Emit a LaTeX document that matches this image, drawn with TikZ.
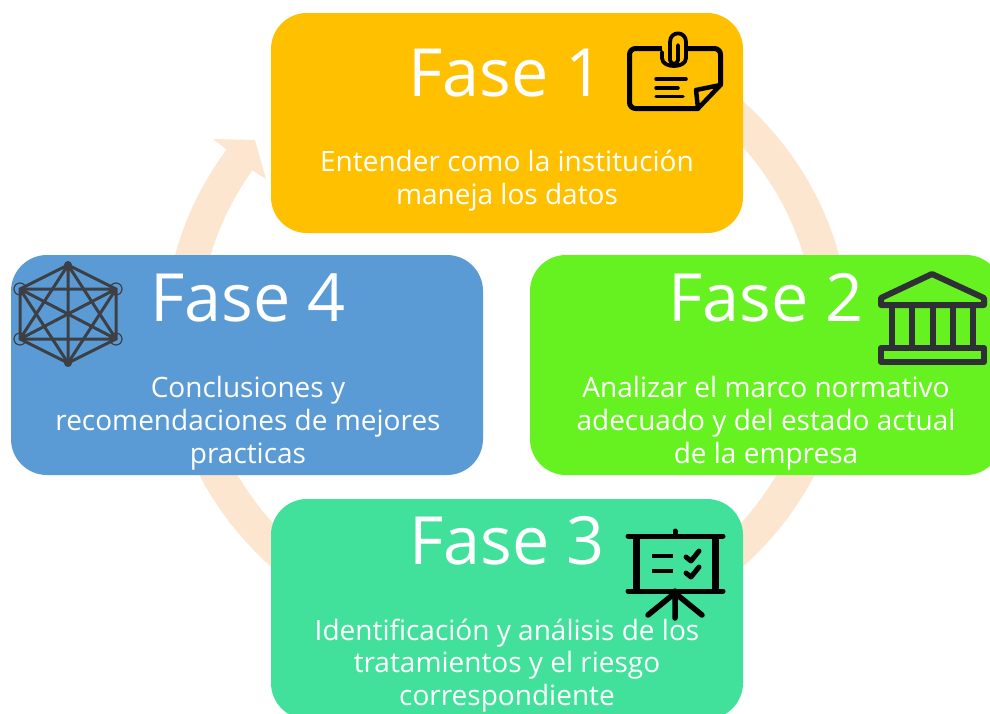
\documentclass[tikz,border=0pt]{standalone}
\usepackage{fontspec}
\setmainfont{Open Sans}
\begin{document}
\begin{tikzpicture}[x=1pt,y=-1pt,
  phasebox/.style={rounded corners=36pt,line width=0pt},
  title/.style={anchor=base,text=white,font=\fontsize{66.5}{66.5}\selectfont,inner sep=0pt},
  body/.style={anchor=base,text=white,font=\fontsize{28}{28}\selectfont,inner sep=0pt},
  ink/.style={line cap=round,line join=round},
]
\useasboundingbox (0,0) rectangle (990,713);
\clip (0,0) rectangle (990,713);
\fill[white] (0,0) rectangle (990,713);
\definecolor{ringc}{HTML}{FDE6CF}
\definecolor{orangec}{HTML}{FFC000}
\definecolor{greenc}{HTML}{66F220}
\definecolor{tealc}{HTML}{42E19B}
\definecolor{bluec}{HTML}{5B9BD5}
\definecolor{darkc}{HTML}{2F3036}
\definecolor{netc}{HTML}{3C4045}
% ring arrow
\fill[ringc] plot[domain=280:575.1,samples=150] ({507+342.5*cos(\x)},{334+321*sin(\x)})
  -- (213,139) -- (255,140) -- (266,179) -- (252,170)
  -- plot[domain=574:280,samples=150] ({507+308*cos(\x)},{334+291*sin(\x)}) -- cycle;
% boxes
\fill[orangec,phasebox] (271,13) rectangle (743,233);
\fill[greenc,phasebox] (530,255) rectangle (1002,475);
\fill[tealc,phasebox] (271,499) rectangle (743,719);
\fill[bluec,phasebox] (11,255) rectangle (483,475);
% titles
\node[title] (t1) at (506,96) {Fase 1};
\node[title] (t2) at (766,321) {Fase 2};
\node[title] (t3) at (507,564) {Fase 3};
\node[title] (t4) at (248,321) {Fase 4};
% body texts
\node[body] (b1a) at (507,171) {Entender como la institución};
\node[body] (b1b) at (507,204) {maneja los datos};
\node[body] (b2a) at (766,397) {Analizar el marco normativo};
\node[body] (b2b) at (766,430) {adecuado y del estado actual};
\node[body] (b2c) at (766,463) {de la empresa};
\node[body] (b3a) at (507,640) {Identificación y análisis de los};
\node[body] (b3b) at (507,672) {tratamientos y el riesgo};
\node[body] (b3c) at (507,705) {correspondiente};
\node[body] (b4a) at (248,397) {Conclusiones y};
\node[body] (b4b) at (248,430) {recomendaciones de mejores};
\node[body] (b4c) at (248,463) {practicas};
% icon 1: note with clip
\begin{scope}[ink,black,line width=5pt]
\draw[rounded corners=6pt] (698,108.5) -- (629.5,108.5) -- (629.5,48.5) -- (720.5,48.5) -- (720.5,85);
\draw[line width=4.5pt] (720.5,85) -- (698,108.5) -- (696,90) -- cycle;
\draw[line width=3.5pt] (656,79) -- (686,79) (656,88) -- (678,88) (656,96.5) -- (683,96.5);
\draw[orangec,line width=8pt,line cap=butt] (662,48.5) -- (686,48.5);
\draw[line width=3.8pt] (662,52) -- (662,58) .. controls (662,68.7) and (686,68.7) .. (686,58) -- (686,42)
  .. controls (686,30.5) and (670,30.5) .. (670,42) -- (670,60) .. controls (670,65) and (678,65) .. (678,60) -- (678,45);
\end{scope}
% icon 2: bank
\begin{scope}[ink,darkc,line width=6pt]
\draw (932,274) -- (881,298) -- (881,305) -- (984,305) -- (984,298) -- cycle;
\draw (892,307) -- (892,346) (912,307) -- (912,346) (933,307) -- (933,346) (953,307) -- (953,346) (973,307) -- (973,346);
\draw (881,348) rectangle (984,362);
\end{scope}
% icon 3: board
\begin{scope}[ink,black,line width=5pt]
\draw (628,536) -- (723,536) (628,591) -- (723,591) (675,531) -- (675,536);
\draw[line width=7pt,line cap=butt] (636,536) -- (636,591) (715,536) -- (715,591);
\draw[line width=5.5pt] (675,591) -- (675,618) (675,593) -- (648,615) (675,593) -- (702,615);
\draw[line width=4.5pt,line cap=butt] (652,556) -- (673,556) (652,571) -- (673,571);
\draw[line width=5pt] (686,557) -- (691,561) -- (699,551) (686,573) -- (691,577) -- (699,567);
\end{scope}
% icon 4: network
\begin{scope}[netc,line width=3pt]
\coordinate (n1) at (68,265);
\coordinate (n2) at (116,289);
\coordinate (n3) at (116,339);
\coordinate (n4) at (68,363);
\coordinate (n5) at (20,339);
\coordinate (n6) at (20,289);
\draw (n1) -- (n2) -- (n3) -- (n4) -- (n5) -- (n6) -- cycle;
\draw (n1) -- (n3) (n1) -- (n4) (n1) -- (n5);
\draw (n2) -- (n4) (n2) -- (n5) (n2) -- (n6);
\draw (n3) -- (n5) (n3) -- (n6);
\draw (n4) -- (n6);
\fill (n1) circle (4); \fill (n4) circle (4);
\draw[line width=1.2pt] (n2) circle (6) (n3) circle (6) (n5) circle (6) (n6) circle (6);
\end{scope}
\end{tikzpicture}
\end{document}
